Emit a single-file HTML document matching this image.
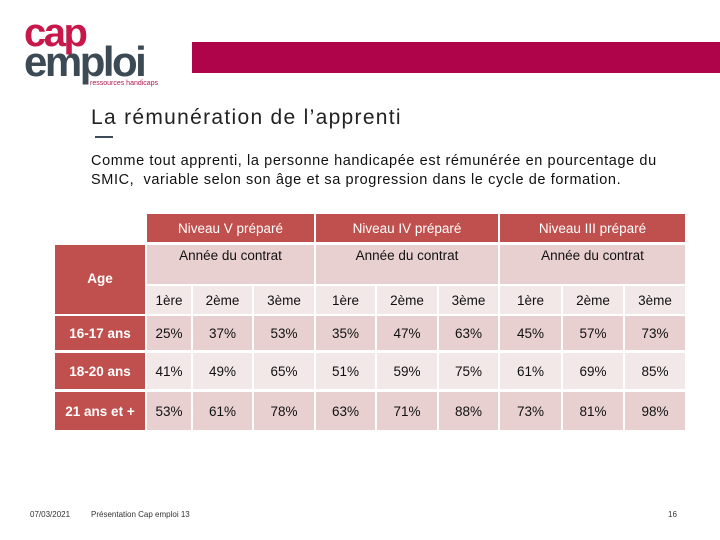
<!DOCTYPE html>
<html><head><meta charset="utf-8"><style>
body{margin:0;width:720px;height:540px;background:#fff;position:relative;overflow:hidden;font-family:"Liberation Sans",sans-serif}
.c{position:absolute;display:flex;align-items:center;justify-content:center;font-family:"Liberation Sans",sans-serif;font-size:13.5px;color:#111}
.h{background:#c0504d;color:#fff}
.d{background:#e8d0d0}.l{background:#f3e8e8}
</style></head><body>
<div style="position:absolute;left:24px;top:14px;width:150px;height:70px">
<div style="position:absolute;left:0;top:2px;font-size:40px;font-weight:bold;letter-spacing:-2.5px;color:#c8174b;line-height:34px">cap</div>
<div style="position:absolute;left:0;top:28px;font-size:42px;font-weight:bold;letter-spacing:-2.5px;color:#3c4a55;line-height:40px">emploi</div>
<div style="position:absolute;left:66px;top:66px;font-size:7px;color:#b0174b">ressources handicaps</div>
</div>
<div style="position:absolute;left:192px;top:42px;width:528px;height:31px;background:#b0044a"></div>
<div style="position:absolute;left:91px;top:106px;font-size:21px;letter-spacing:1.3px;color:#222">La rémunération de l’apprenti</div>
<div style="position:absolute;left:95px;top:136px;width:18px;height:2px;background:#3c4a55"></div>
<div style="position:absolute;left:91px;top:152px;width:590px;font-size:14.5px;letter-spacing:0.6px;line-height:19px;color:#111">Comme tout apprenti, la personne handicapée est rémunérée en pourcentage du SMIC,&nbsp; variable selon son âge et sa progression dans le cycle de formation.</div>
<div id="t"></div>
<div style="position:absolute;left:30px;top:510px;font-size:8px;color:#333">07/03/2021</div>
<div style="position:absolute;left:91px;top:510px;font-size:8px;color:#333">Présentation Cap emploi 13</div>
<div style="position:absolute;left:668px;top:510px;font-size:8px;color:#333">16</div>
<script>
const levels=["Niveau V préparé","Niveau IV préparé","Niveau III préparé"];
const years=["1ère","2ème","3ème"];
const ages=["16-17 ans","18-20 ans","21 ans et +"];
const r1=["25%","37%","53%","35%","47%","63%","45%","57%","73%"];
const r2=["41%","49%","65%","51%","59%","75%","61%","69%","85%"];
const r3=["53%","61%","78%","63%","71%","88%","73%","81%","98%"];
const values=[r1,r2,r3];
const colX=[147,193,254,316,377,439,500,563,625,687];
const rows=[[316,350],[353,389],[392,430]];
const t=document.getElementById('t');
function cell(x,y,w,h,cls,txt,name){const d=document.createElement('div');d.className='c '+cls;d.style.left=x+'px';d.style.top=y+'px';d.style.width=w+'px';d.style.height=h+'px';d.textContent=txt;


t.appendChild(d);return d;}
for(let i=0;i<3;i++){const x=colX[i*3],w=colX[i*3+3]-x-2;
cell(x,214,w,28,'h',levels[i],'level-header');
const a=cell(x,245,w,39,'d',"Année du contrat",'year-header');a.style.alignItems='flex-start';a.style.paddingTop='3px';a.style.height='36px';
for(let j=0;j<3;j++)cell(colX[i*3+j],286,colX[i*3+j+1]-colX[i*3+j]-2,28,'l',years[j],'year-label');}
const ag=cell(55,245,90,69,'h',"Age",'age-header');ag.style.alignItems='flex-start';ag.style.paddingTop='26px';ag.style.height='43px';ag.style.fontWeight='bold';
for(let r=0;r<3;r++){const [y0,y1]=rows[r];const a=cell(55,y0,90,y1-y0,'h',ages[r],'age-label');a.style.fontWeight='bold';
for(let c=0;c<9;c++)cell(colX[c],y0,colX[c+1]-colX[c]-2,y1-y0,r%2?'l':'d',values[r][c],'rate-cell');}
</script>
</body></html>
